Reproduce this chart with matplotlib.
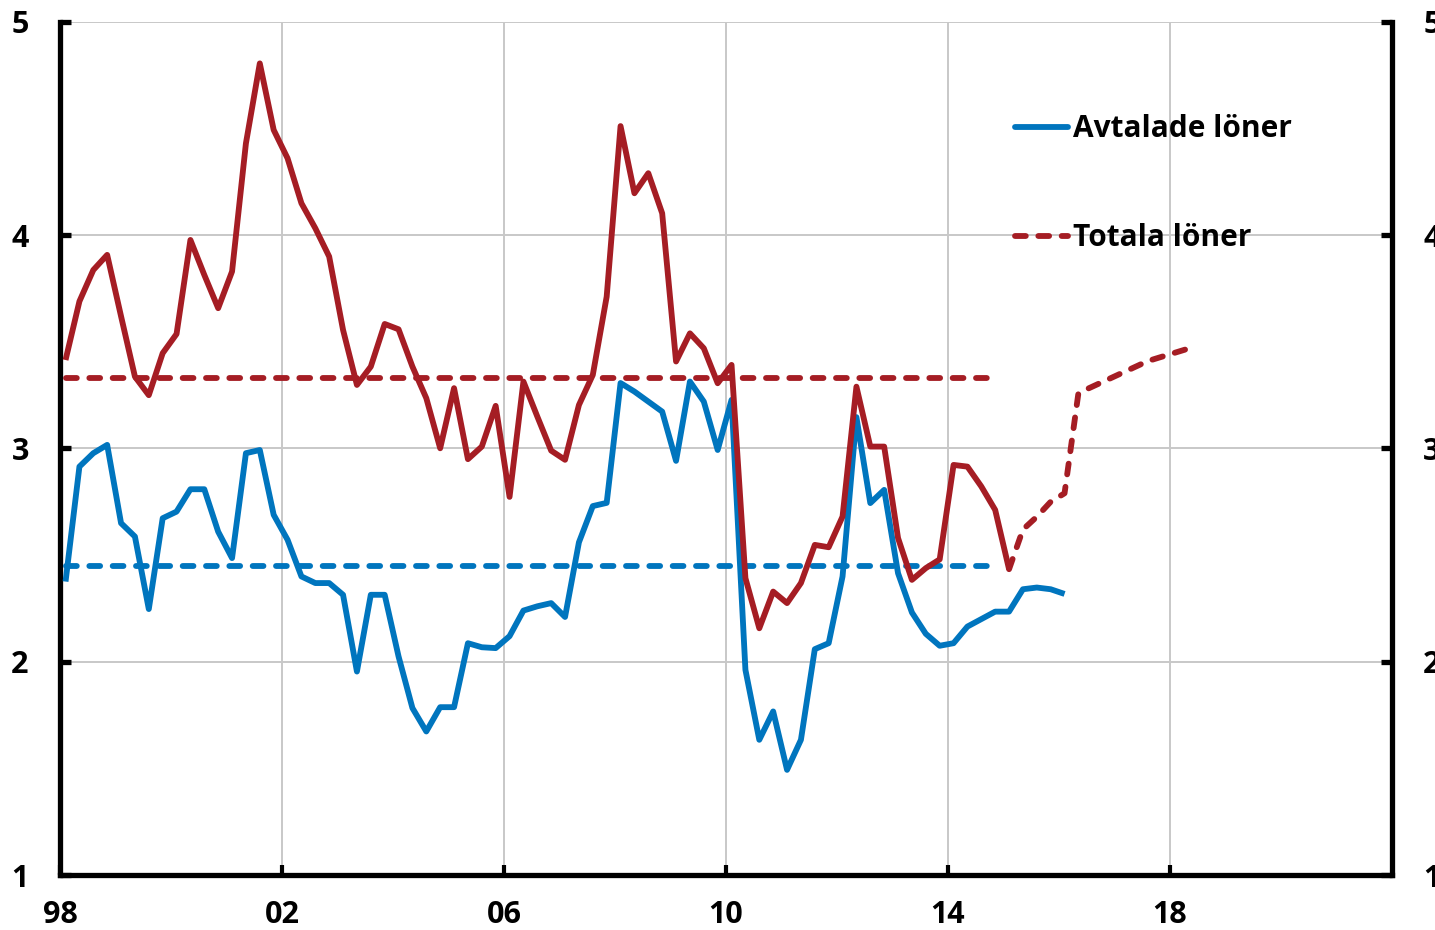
import numpy as np
import matplotlib
matplotlib.use("Agg")
import matplotlib.pyplot as plt
from matplotlib.lines import Line2D

plt.rcParams['font.family'] = ['Open Sans', 'DejaVu Sans']
plt.rcParams['font.weight'] = 'bold'

# ---- data (quarterly, starting 1998 Q1) ----
start_year = 1998
avtalade = [2.376, 2.915, 2.978, 3.017, 2.65, 2.587, 2.247, 2.673, 2.704, 2.809,
            2.809, 2.61, 2.486, 2.978, 2.993, 2.689, 2.572, 2.40, 2.369, 2.369,
            2.314, 1.954, 2.314, 2.314, 2.025, 1.783, 1.673, 1.787, 1.787, 2.087,
            2.068, 2.064, 2.12, 2.24, 2.26, 2.275, 2.21, 2.56, 2.73, 2.745,
            3.307, 3.267, 3.22, 3.173, 2.942, 3.314, 3.22, 2.993, 3.228, 1.962,
            1.634, 1.767, 1.493, 1.634, 2.059, 2.087, 2.40, 3.147, 2.744, 2.806,
            2.415, 2.231, 2.131, 2.075, 2.087, 2.165, 2.20, 2.235, 2.235, 2.34,
            2.348, 2.34, 2.318]
totala = [3.415, 3.69, 3.837, 3.908, 3.62, 3.337, 3.25, 3.447, 3.537, 3.978,
          3.814, 3.658, 3.83, 4.431, 4.806, 4.494, 4.361, 4.15, 4.033, 3.90,
          3.556, 3.298, 3.384, 3.584, 3.559, 3.384, 3.236, 3.001, 3.283, 2.95,
          3.009, 3.20, 2.773, 3.314, 3.15, 2.99, 2.947, 3.204, 3.345, 3.712,
          4.512, 4.197, 4.291, 4.103, 3.408, 3.54, 3.47, 3.306, 3.392, 2.392,
          2.157, 2.329, 2.275, 2.369, 2.548, 2.537, 2.681, 3.29, 3.009, 3.009,
          2.58, 2.384, 2.439, 2.48, 2.923, 2.915, 2.822, 2.712, 2.434]
# forecast of total wages, starting at last outcome (2015 Q1)
totala_prognos = [2.434, 2.62, 2.68, 2.75, 2.79, 3.26, 3.29, 3.32, 3.35, 3.38,
                  3.41, 3.43, 3.45, 3.47]
medel_avtalade = 2.45
medel_totala = 3.33
medel_quarters = 68  # mean lines span 1998 Q1 .. 2014 Q4

x_ticks = [1998, 2002, 2006, 2010, 2014, 2018]
x_ticklabels = ['98', '02', '06', '10', '14', '18']
y_ticks = [1, 2, 3, 4, 5]
labels = ['Avtalade löner', 'Totala löner']

blue = '#0075BE'
red = '#A51D24'


def qtime(n, offset=0):
    return start_year + 0.1 + 0.25 * (np.arange(n) + offset)


t_blue = qtime(len(avtalade))
t_red = qtime(len(totala))
t_fc = qtime(len(totala_prognos), offset=len(totala) - 1)
t_mean = qtime(medel_quarters)

fig = plt.figure(figsize=(14.35, 9.3), dpi=100)
ax = fig.add_axes([60 / 1435, 1 - 875 / 930, (1392 - 60) / 1435, (875 - 22) / 930])

lw = 4.2
dash = (1.85, 2.15)

ax.plot(t_mean, [medel_avtalade] * medel_quarters, color=blue, lw=lw,
        dashes=dash, dash_capstyle='round', zorder=3)
ax.plot(t_mean, [medel_totala] * medel_quarters, color=red, lw=lw,
        dashes=dash, dash_capstyle='round', zorder=3)
ax.plot(t_blue, avtalade, color=blue, lw=lw, solid_capstyle='butt', zorder=4)
ax.plot(t_red, totala, color=red, lw=lw, solid_capstyle='butt', zorder=5)
ax.plot(t_fc, totala_prognos, color=red, lw=lw, dashes=dash,
        dash_capstyle='round', zorder=5)

ax.set_xlim(1998, 2022)
ax.set_ylim(1, 5)
ax.set_xticks(x_ticks)
ax.set_xticklabels(x_ticklabels)
ax.set_yticks(y_ticks)
ax.set_yticklabels([str(v) for v in y_ticks])

ax.grid(True, color='#c8c8c8', lw=1.4, zorder=0)
ax.set_axisbelow(True)

for s in ['left', 'right', 'bottom']:
    ax.spines[s].set_linewidth(3.8)
    ax.spines[s].set_color('black')
ax.spines['top'].set_visible(False)

ax.tick_params(axis='y', direction='in', length=8, width=3.8, left=True,
               right=True, labelleft=True, labelright=True, pad=22.5,
               labelsize=22)
ax.tick_params(axis='x', direction='in', length=7, width=3, pad=18,
               labelsize=22)
for lab in ax.get_yticklabels(which='both'):
    lab.set_fontweight('bold')
for lab in ax.get_xticklabels():
    lab.set_fontweight('bold')

handles = [Line2D([], [], color=blue, lw=lw, solid_capstyle='round'),
           Line2D([], [], color=red, lw=lw, dashes=dash,
                  dash_capstyle='round')]
leg = ax.legend(handles, labels, loc='upper left',
                bbox_to_anchor=((1015 - 60) / 1332, (875 - 114) / 853),
                frameon=False, fontsize=21.5, handlelength=1.77,
                handletextpad=0.17, labelspacing=2.65, borderpad=0,
                borderaxespad=0)
for txt in leg.get_texts():
    txt.set_fontweight('bold')

fig.savefig('out.png', dpi=100)
